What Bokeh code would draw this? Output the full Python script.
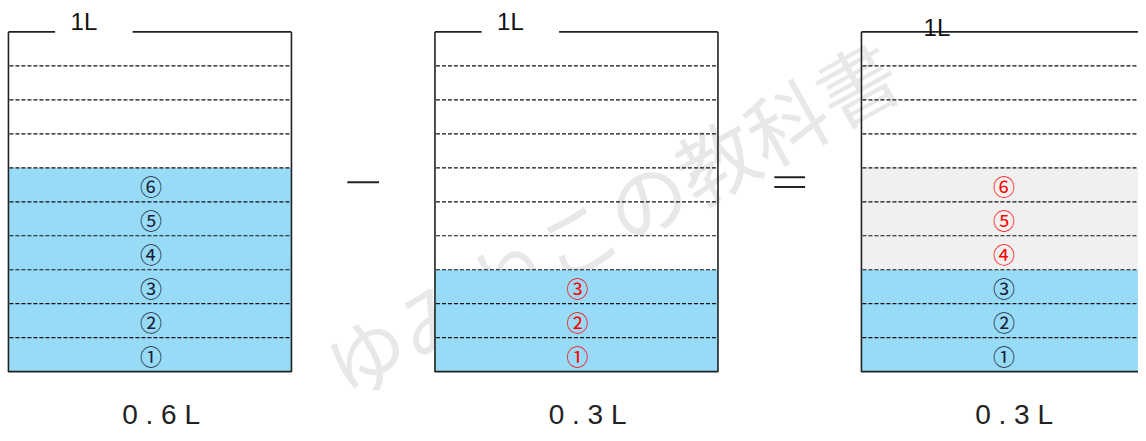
from bokeh.plotting import figure
from bokeh.models import Range1d, ColumnDataSource
from bokeh.embed import file_html
from bokeh.resources import INLINE
from bokeh.core.properties import value

# ---------------- data ----------------
capacity_l = 1.0
divisions = 10
amounts_l = [0.6, 0.3, 0.3]
blue_units = [6, 3, 3]
gray_units = [0, 0, 3]
amount_labels = ["0 . 6 L", "0 . 3 L", "0 . 3 L"]
capacity_labels = ["1L", "1L", "1L"]
circled = ["①", "②", "③", "④", "⑤", "⑥"]
red_numbers = [[], [1, 2, 3], [4, 5, 6]]
watermark = "ゆみねこの教科書"

# ---------------- layout (pixels / liters) ----------------
lefts = [8, 437.5, 867]
box_w = 285
label_y_px = [21, 21, 28]
has_gap = [True, True, False]

def py(pix):
    # convert a screen pixel row to liters on the y scale
    return (378 - pix) / 346.0

p = figure(width=1138, height=433, output_backend="svg", toolbar_location=None,
           x_range=Range1d(0, 1146), y_range=Range1d(py(441), py(0)),
           min_border=0, outline_line_color=None,
           background_fill_color="white", border_fill_color="white")
p.axis.visible = False
p.grid.visible = False

# watermark (under fills)
p.text(x=[614], y=[py(220)], text=[watermark], angle=0.506,
       text_font=value("Noto Sans CJK JP"), text_font_size="80px",
       text_color="#e8e8e8", text_align="center", text_baseline="middle")

# fills
bl, br, bb, bt = [], [], [], []
gl, gr, gb, gt = [], [], [], []
for i, L in enumerate(lefts):
    b_top = blue_units[i] / divisions * capacity_l
    bl.append(L); br.append(L + box_w); bb.append(0); bt.append(b_top)
    if gray_units[i]:
        gl.append(L); gr.append(L + box_w); gb.append(b_top)
        gt.append((blue_units[i] + gray_units[i]) / divisions * capacity_l)
p.quad(left=bl, right=br, bottom=bb, top=bt, fill_color="#97dbf6", line_color=None)
p.quad(left=gl, right=gr, bottom=gb, top=gt, fill_color="#f0f0f0", line_color=None)

# dashed division lines
dx0, dx1, dy = [], [], []
for L in lefts:
    for k in range(1, divisions):
        dx0.append(L + 1); dx1.append(L + box_w - 1); dy.append(k / divisions * capacity_l)
p.segment(x0=dx0, y0=dy, x1=dx1, y1=dy, line_color="#111111", line_width=1.2, line_dash="4 2")

# container borders
xs, ys = [], []
for i, L in enumerate(lefts):
    R = L + box_w
    xs.append([L, L, R, R]); ys.append([capacity_l, 0, 0, capacity_l])
    if has_gap[i]:
        xs.append([L, L + 47]); ys.append([capacity_l, capacity_l])
        xs.append([L + 125, R]); ys.append([capacity_l, capacity_l])
    else:
        xs.append([L, R]); ys.append([capacity_l, capacity_l])
p.multi_line(xs=xs, ys=ys, line_color="#222222", line_width=1.6)

# 1L labels
p.text(x=[L + 76 for L in lefts], y=[py(v) for v in label_y_px], text=capacity_labels,
       text_font=value("Liberation Sans"), text_font_size="24px", text_color="#111111",
       text_align="center", text_baseline="middle")

# circled numbers
nx, ny, nt, nc = [], [], [], []
for i, L in enumerate(lefts):
    for k in range(1, blue_units[i] + gray_units[i] + 1):
        nx.append(L + box_w / 2 + 1)
        ny.append((k - 0.5) / divisions * capacity_l)
        nt.append(circled[k - 1])
        nc.append("#ff0000" if k in red_numbers[i] else "#1a2238")
p.text(x="x", y="y", text="t", text_color="c",
       source=ColumnDataSource(dict(x=nx, y=ny, t=nt, c=nc)),
       text_font=value("Noto Sans CJK JP"), text_font_size="22px",
       text_align="center", text_baseline="middle")

# amount labels
p.text(x=[L + 114.5 for L in lefts], y=[py(422)] * 3, text=amount_labels,
       text_font=value("Liberation Sans"), text_font_size="28px", text_color="#222222",
       text_align="left", text_baseline="middle")

# operators: minus and equals between containers
m1 = (lefts[0] + box_w + lefts[1]) / 2
m2 = (lefts[1] + box_w + lefts[2]) / 2
p.segment(x0=[m1 - 16, m2 - 15.5, m2 - 15.5], x1=[m1 + 16, m2 + 15.5, m2 + 15.5],
          y0=[py(185), py(180), py(190)], y1=[py(185), py(180), py(190)],
          line_color="#222222", line_width=2)

open("out.html", "w").write(file_html(p, INLINE))
